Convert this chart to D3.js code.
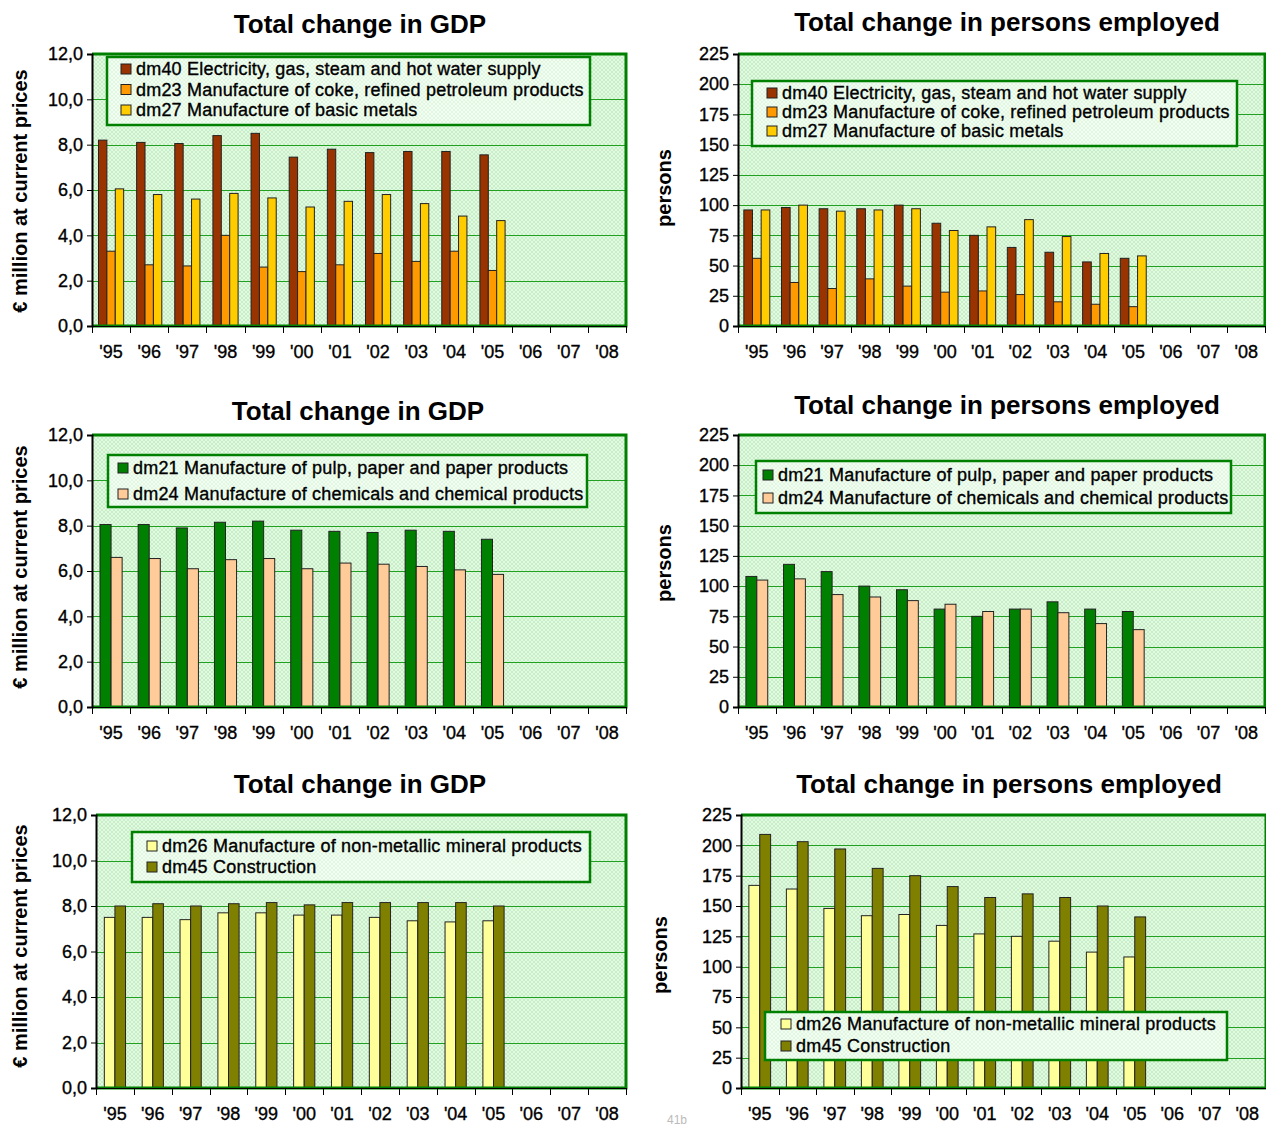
<!DOCTYPE html>
<html>
<head>
<meta charset="utf-8">
<script src="https://cdn.jsdelivr.net/npm/d3@7"></script>
<style>
  body { margin: 0; background: #fff; }
  svg { display: block; }
  text { font-family: "Liberation Sans", Arial, sans-serif; }
</style>
</head>
<body>
<svg id="chart" width="1266" height="1126"></svg>
<script>
// Categories
const years = ["'95", "'96", "'97", "'98", "'99", "'00", "'01", "'02", "'03", "'04", "'05", "'06", "'07", "'08"];

// Tick labels
const gdpTicks = [0, 2, 4, 6, 8, 10, 12];
const personTicks = [0, 25, 50, 75, 100, 125, 150, 175, 200, 225];

// Series names
const nameDm40 = "dm40 Electricity, gas, steam and hot water supply";
const nameDm23 = "dm23 Manufacture of coke, refined petroleum products";
const nameDm27 = "dm27 Manufacture of basic metals";
const nameDm21 = "dm21 Manufacture of pulp, paper and paper products";
const nameDm24 = "dm24 Manufacture of chemicals and chemical products";
const nameDm26 = "dm26 Manufacture of non-metallic mineral products";
const nameDm45 = "dm45 Construction";

// GDP, € million at current prices ('95–'05)
const gdpDm40 = [8.2, 8.1, 8.05, 8.4, 8.5, 7.45, 7.8, 7.65, 7.7, 7.7, 7.55];
const gdpDm23 = [3.3, 2.7, 2.65, 4.0, 2.6, 2.4, 2.7, 3.2, 2.85, 3.3, 2.45];
const gdpDm27 = [6.05, 5.8, 5.6, 5.85, 5.65, 5.25, 5.5, 5.8, 5.4, 4.85, 4.65];
const gdpDm21 = [8.05, 8.05, 7.9, 8.15, 8.2, 7.8, 7.75, 7.7, 7.8, 7.75, 7.4];
const gdpDm24 = [6.6, 6.55, 6.1, 6.5, 6.55, 6.1, 6.35, 6.3, 6.2, 6.05, 5.85];
const gdpDm26 = [7.5, 7.5, 7.4, 7.7, 7.7, 7.6, 7.6, 7.5, 7.35, 7.3, 7.35];
const gdpDm45 = [8.0, 8.1, 8.0, 8.1, 8.15, 8.05, 8.15, 8.15, 8.15, 8.15, 8.0];

// Persons employed ('95–'05)
const empDm40 = [96, 98, 97, 97, 100, 85, 75, 65, 61, 53, 56];
const empDm23 = [56, 36, 31, 39, 33, 28, 29, 26, 20, 18, 16];
const empDm27 = [96, 100, 95, 96, 97, 79, 82, 88, 74, 60, 58];
const empDm21 = [108, 118, 112, 100, 97, 81, 75, 81, 87, 81, 79];
const empDm24 = [105, 106, 93, 91, 88, 85, 79, 81, 78, 69, 64];
const empDm26 = [167, 164, 148, 142, 143, 134, 127, 125, 121, 112, 108];
const empDm45 = [209, 203, 197, 181, 175, 166, 157, 160, 157, 150, 141];

// Series colours
const colDm40 = "#993300";
const colDm23 = "#ff9900";
const colDm27 = "#ffcc00";
const colDm21 = "#008000";
const colDm24 = "#ffcc99";
const colDm26 = "#ffff99";
const colDm45 = "#808000";

const svg = d3.select("#chart");
const defs = svg.append("defs");

// Light green lattice fill for plot areas
const pat = defs.append("pattern").attr("id", "plotFill")
  .attr("width", 4).attr("height", 4).attr("patternUnits", "userSpaceOnUse");
pat.append("rect").attr("width", 4).attr("height", 4).attr("fill", "#e4f9e4");
pat.append("path").attr("d", "M0,0L4,4M4,0L0,4").attr("stroke", "#c6efc6").attr("stroke-width", 1);

// Paler lattice for legend boxes
const patL = defs.append("pattern").attr("id", "legendFill")
  .attr("width", 4).attr("height", 4).attr("patternUnits", "userSpaceOnUse");
patL.append("rect").attr("width", 4).attr("height", 4).attr("fill", "#f4fdf4");
patL.append("path").attr("d", "M0,0L4,4M4,0L0,4").attr("stroke", "#e0f7e0").attr("stroke-width", 1);

const gdpFmt = d => d.toFixed(1).replace(".", ",");
const intFmt = d => String(d);

// slightly heavier body text
function heavy(sel) {
  sel.attr("stroke", "#000").attr("stroke-width", 0.35).attr("paint-order", "stroke");
}

function drawPanel(p) {
  const g = svg.append("g");
  const x = d3.scaleBand().domain(years).range([p.left, p.right]);
  const y = d3.scaleLinear().domain([0, p.max]).range([p.bottom, p.top]);

  // plot background
  g.append("rect")
    .attr("x", p.left).attr("y", p.top)
    .attr("width", p.right - p.left).attr("height", p.bottom - p.top)
    .attr("fill", "url(#plotFill)");

  // horizontal gridlines
  g.append("g").selectAll("line")
    .data(p.ticks.filter(t => t > 0 && t < p.max))
    .join("line")
    .attr("x1", p.left).attr("x2", p.right)
    .attr("y1", d => Math.round(y(d)) + 0.5).attr("y2", d => Math.round(y(d)) + 0.5)
    .attr("stroke", "#22a022").attr("stroke-width", 1.2);

  // bars
  const names = p.series.map(s => s.name);
  const groupW = x.bandwidth() * p.groupFrac;
  const xs = d3.scaleBand().domain(names).range([0, groupW]);
  const off = (x.bandwidth() - groupW) / 2;
  p.series.forEach(s => {
    g.append("g").selectAll("rect")
      .data(s.values.map((v, i) => ({ year: years[i], v })))
      .join("rect")
      .attr("x", d => x(d.year) + off + xs(s.name))
      .attr("y", d => y(d.v))
      .attr("width", xs.bandwidth())
      .attr("height", d => y(0) - y(d.v))
      .attr("fill", s.color)
      .attr("stroke", "#222")
      .attr("stroke-width", 1);
  });

  // green frame: top, right, bottom
  g.append("path")
    .attr("d", `M${p.left},${p.top}H${p.right}V${p.bottom}H${p.left}`)
    .attr("fill", "none").attr("stroke", "#008000").attr("stroke-width", 3);

  // y axis
  const ya = d3.axisLeft(y).tickValues(p.ticks).tickFormat(p.fmt).tickSize(5).tickPadding(4);
  const yg = g.append("g").attr("transform", `translate(${p.left},0)`).call(ya);
  yg.select(".domain").attr("stroke", "#000").attr("stroke-width", 2);
  yg.selectAll(".tick line").attr("stroke", "#000");
  yg.selectAll(".tick text").attr("font-size", 18).attr("fill", "#000")
    .attr("font-family", "'Liberation Sans', Arial, sans-serif").call(heavy);

  // x axis: labels centred in bands, ticks on band boundaries
  const xa = d3.axisBottom(x).tickSize(0).tickPadding(19);
  const xg = g.append("g").attr("transform", `translate(0,${p.bottom})`).call(xa);
  xg.select(".domain").attr("stroke", "#000").attr("stroke-width", 1);
  xg.selectAll(".tick text").attr("font-size", 18).attr("fill", "#000")
    .attr("font-family", "'Liberation Sans', Arial, sans-serif").call(heavy);
  const bounds = years.map(d => x(d)).concat([p.right]);
  xg.append("g").selectAll("line")
    .data(bounds)
    .join("line")
    .attr("x1", d => Math.round(d) + 0.5).attr("x2", d => Math.round(d) + 0.5)
    .attr("y1", 0).attr("y2", 7)
    .attr("stroke", "#000");

  // chart title
  g.append("text")
    .attr("x", p.titleX).attr("y", p.titleY)
    .attr("text-anchor", "middle")
    .attr("font-size", 26).attr("font-weight", "bold")
    .text(p.title);

  // y axis title
  g.append("text")
    .attr("transform", `translate(${p.yTitleX},${p.yTitleY}) rotate(-90)`)
    .attr("text-anchor", "middle")
    .attr("dominant-baseline", "central")
    .attr("font-size", 20).attr("font-weight", "bold")
    .text(p.yTitle);

  // legend
  const L = p.legend;
  const lg = g.append("g");
  lg.append("rect")
    .attr("x", L.x).attr("y", L.y).attr("width", L.w).attr("height", L.h)
    .attr("fill", "url(#legendFill)")
    .attr("stroke", "#008000").attr("stroke-width", 2.5);
  p.series.forEach((s, i) => {
    const cy = L.firstRow + i * L.rowStep;
    lg.append("rect")
      .attr("x", L.swatchX).attr("y", cy - 5).attr("width", 10).attr("height", 10)
      .attr("fill", s.color).attr("stroke", "#222").attr("stroke-width", 1);
    lg.append("text")
      .attr("x", L.swatchX + 15).attr("y", cy)
      .attr("dominant-baseline", "central")
      .attr("font-size", 18)
      .attr("letter-spacing", 0.2)
      .call(heavy)
      .text(s.name);
  });
}

const gdpTitle = "Total change in GDP";
const empTitle = "Total change in persons employed";
const gdpAxis = "€ million at current prices";
const empAxis = "persons";

drawPanel({
  left: 92, right: 626, top: 54, bottom: 326, max: 12, ticks: gdpTicks, fmt: gdpFmt,
  groupFrac: 0.66, title: gdpTitle, titleX: 360, titleY: 33,
  yTitle: gdpAxis, yTitleX: 20, yTitleY: 191,
  series: [
    { name: nameDm40, values: gdpDm40, color: colDm40 },
    { name: nameDm23, values: gdpDm23, color: colDm23 },
    { name: nameDm27, values: gdpDm27, color: colDm27 }
  ],
  legend: { x: 107, y: 57, w: 483, h: 68, swatchX: 121, firstRow: 69, rowStep: 20.5 }
});

drawPanel({
  left: 738, right: 1265, top: 54, bottom: 326, max: 225, ticks: personTicks, fmt: intFmt,
  groupFrac: 0.69, title: empTitle, titleX: 1007, titleY: 31,
  yTitle: empAxis, yTitleX: 664, yTitleY: 188,
  series: [
    { name: nameDm40, values: empDm40, color: colDm40 },
    { name: nameDm23, values: empDm23, color: colDm23 },
    { name: nameDm27, values: empDm27, color: colDm27 }
  ],
  legend: { x: 752, y: 81, w: 485, h: 65, swatchX: 767, firstRow: 93, rowStep: 19 }
});

drawPanel({
  left: 92, right: 626, top: 435, bottom: 707, max: 12, ticks: gdpTicks, fmt: gdpFmt,
  groupFrac: 0.58, title: gdpTitle, titleX: 358, titleY: 420,
  yTitle: gdpAxis, yTitleX: 20, yTitleY: 567,
  series: [
    { name: nameDm21, values: gdpDm21, color: colDm21 },
    { name: nameDm24, values: gdpDm24, color: colDm24 }
  ],
  legend: { x: 108, y: 455, w: 479, h: 52, swatchX: 118, firstRow: 468, rowStep: 26 }
});

drawPanel({
  left: 738, right: 1265, top: 435, bottom: 707, max: 225, ticks: personTicks, fmt: intFmt,
  groupFrac: 0.58, title: empTitle, titleX: 1007, titleY: 414,
  yTitle: empAxis, yTitleX: 664, yTitleY: 563,
  series: [
    { name: nameDm21, values: empDm21, color: colDm21 },
    { name: nameDm24, values: empDm24, color: colDm24 }
  ],
  legend: { x: 756, y: 461, w: 475, h: 52, swatchX: 763, firstRow: 475, rowStep: 23 }
});

drawPanel({
  left: 96, right: 626, top: 815, bottom: 1088, max: 12, ticks: gdpTicks, fmt: gdpFmt,
  groupFrac: 0.56, title: gdpTitle, titleX: 360, titleY: 793,
  yTitle: gdpAxis, yTitleX: 20, yTitleY: 946,
  series: [
    { name: nameDm26, values: gdpDm26, color: colDm26 },
    { name: nameDm45, values: gdpDm45, color: colDm45 }
  ],
  legend: { x: 132, y: 832, w: 458, h: 50, swatchX: 147, firstRow: 846, rowStep: 21 }
});

drawPanel({
  left: 741, right: 1266, top: 815, bottom: 1088, max: 225, ticks: personTicks, fmt: intFmt,
  groupFrac: 0.58, title: empTitle, titleX: 1009, titleY: 793,
  yTitle: empAxis, yTitleX: 660, yTitleY: 955,
  series: [
    { name: nameDm26, values: empDm26, color: colDm26 },
    { name: nameDm45, values: empDm45, color: colDm45 }
  ],
  legend: { x: 765, y: 1012, w: 462, h: 48, swatchX: 781, firstRow: 1024, rowStep: 22 }
});

// page number
svg.append("text")
  .attr("x", 677).attr("y", 1124)
  .attr("text-anchor", "middle")
  .attr("font-size", 12).attr("fill", "#bbb")
  .text("41b");
</script>
</body>
</html>
